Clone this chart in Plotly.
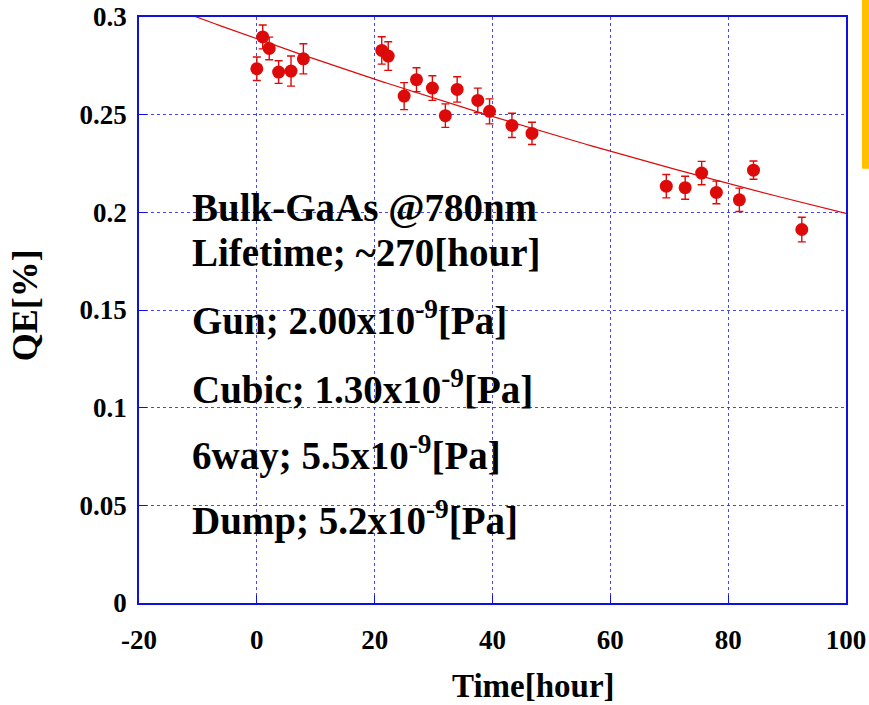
import numpy as np
import plotly.graph_objects as go

# Measured quantum efficiency vs. elapsed time
time_h = [0, 1, 2.1, 3.7, 5.8, 7.9, 21.2, 22.3, 25.0, 27.1, 29.8, 32.0,
          34.0, 37.5, 39.5, 43.3, 46.7, 69.5, 72.7, 75.5, 78.0, 81.9, 84.3, 92.5]
qe = [0.2735, 0.2898, 0.2839, 0.2718, 0.2723, 0.2786, 0.2829, 0.2800, 0.2595,
      0.2679, 0.2636, 0.2495, 0.2629, 0.2573, 0.2517, 0.2445, 0.2404, 0.2134,
      0.2126, 0.2201, 0.2102, 0.2064, 0.2216, 0.1912]
qe_err = [0.0060, 0.0061, 0.0058, 0.0058, 0.0077, 0.0077, 0.0070, 0.0073,
          0.0069, 0.0061, 0.0063, 0.0060, 0.0065, 0.0063, 0.0064, 0.0062,
          0.0057, 0.0060, 0.0059, 0.0060, 0.0058, 0.0060, 0.0047, 0.0063]

# Exponential decay fit: QE(t) = A * exp(-t / tau)
fit_amp = 0.2888
fit_tau = 270.0

x_ticks = [-20, 0, 20, 40, 60, 80, 100]
x_tick_text = ["-20", "0", "20", "40", "60", "80", "100"]
y_ticks = [0, 0.05, 0.1, 0.15, 0.2, 0.25, 0.3]
y_tick_text = ["0", "0.05", "0.1", "0.15", "0.2", "0.25", "0.3"]

info_lines = [
    "Bulk-GaAs @780nm",
    "Lifetime; ~270[hour]",
    "Gun; 2.00x10<sup>-9</sup>[Pa]",
    "Cubic; 1.30x10<sup>-9</sup>[Pa]",
    "6way; 5.5x10<sup>-9</sup>[Pa]",
    "Dump; 5.2x10<sup>-9</sup>[Pa]",
]
info_y = [0.2025, 0.1795, 0.146, 0.1108, 0.0765, 0.0435]

RED = "#dd0a0a"
BLUE = "#1010e0"
GRID = "rgba(40,40,230,0.85)"
FONT = "Liberation Serif"

t_fit = np.linspace(-20, 100, 241)
qe_fit = fit_amp * np.exp(-t_fit / fit_tau)

fig = go.Figure()
fig.add_trace(go.Scatter(
    x=t_fit, y=qe_fit, mode="lines",
    line=dict(color=RED, width=1.2), hoverinfo="skip", showlegend=False,
))
fig.add_trace(go.Scatter(
    x=time_h, y=qe, mode="markers",
    marker=dict(color=RED, size=13, line=dict(width=0)),
    error_y=dict(type="data", array=qe_err, color=RED, thickness=1.4, width=4),
    showlegend=False,
))

for txt, yv in zip(info_lines, info_y):
    fig.add_annotation(
        x=-11.4, y=yv, xref="x", yref="y", text=txt, showarrow=False,
        xanchor="left", yanchor="middle",
        font=dict(family=FONT, size=39, color="black", weight="bold"),
    )

title_font = dict(family=FONT, size=33, color="black", weight="bold")
# axis titles
fig.add_annotation(
    x=47.0, y=-0.1415, xref="x", yref="paper", text="Time[hour]",
    showarrow=False, xanchor="center", yanchor="middle", font=title_font,
)
fig.add_annotation(
    x=-0.162, y=0.509, xref="paper", yref="paper", text="QE[%]",
    showarrow=False, xanchor="center", yanchor="middle", textangle=-90,
    font=dict(family=FONT, size=36, color="black", weight="bold"),
)

axis_common = dict(
    showline=True, linecolor=BLUE, linewidth=1.5, mirror=True,
    showgrid=True, gridcolor=GRID, gridwidth=1, griddash="3px,3px",
    ticks="inside", ticklen=8, tickcolor=BLUE, tickwidth=1,
    zeroline=False, automargin=False,
    tickfont=dict(family=FONT, size=27, color="black", weight="bold"),
)

fig.update_layout(
    width=869, height=705,
    margin=dict(l=139, r=23, t=17, b=102),
    paper_bgcolor="white", plot_bgcolor="white",
    font=dict(family=FONT, color="black"),
    xaxis=dict(
        range=[-20, 100], tickvals=x_ticks, ticktext=x_tick_text,
        ticklabelstandoff=12, **axis_common,
    ),
    yaxis=dict(
        range=[0, 0.3], tickvals=y_ticks, ticktext=y_tick_text,
        ticklabelstandoff=5, **axis_common,
    ),
    shapes=[dict(
        type="rect", xref="paper", yref="paper",
        x0=1.0226, x1=1.04, y0=0.7412, y1=1.04,
        fillcolor="#ffc000", line=dict(width=0), layer="above",
    )],
)

fig.write_html("out.html")
